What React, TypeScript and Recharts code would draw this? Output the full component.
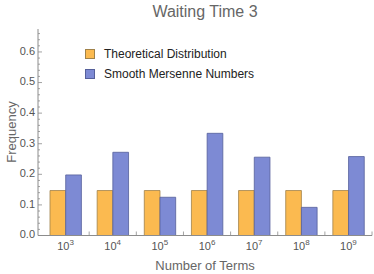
// Waiting Time 3: theoretical vs. observed frequency by number of terms
import { Bar, BarChart, XAxis, YAxis, Legend } from 'recharts'

const exponents = ['3', '4', '5', '6', '7', '8', '9']
const theoretical = [0.147, 0.147, 0.147, 0.147, 0.147, 0.147, 0.147]
const smoothMersenne = [0.198, 0.272, 0.125, 0.334, 0.256, 0.092, 0.258]
const yMajorTicks = [0, 0.1, 0.2, 0.3, 0.4, 0.5, 0.6]
const yAllTicks = Array.from({ length: 34 }, (_, i) => Math.round(i * 2) / 100)

const seriesNames = { theo: 'Theoretical Distribution', smooth: 'Smooth Mersenne Numbers' }
const ORANGE = '#fbba50'
const BLUE = '#7d8ad4'
const FRAME = '#8c8c8c'
const TEXT = '#555'
const FONT = '"Liberation Sans", Arial, sans-serif'

const data = exponents.map((e, i) => ({ exp: e, theo: theoretical[i], smooth: smoothMersenne[i] }))

if (typeof document !== 'undefined') document.body.style.margin = '0'

const isMajor = (v: number) => yMajorTicks.some((m) => Math.abs(m - v) < 1e-6)

// 왼쪽 y축 눈금: 안쪽으로 향하는 눈금선 + 주 눈금 라벨
const LeftTick = (props: any) => {
  const { x, y, payload } = props
  const major = isMajor(payload.value)
  return (
    <g>
      <line x1={x} x2={x + (major ? 4 : 2)} y1={y} y2={y} stroke={FRAME} strokeWidth={0.8} />
      {major && (
        <text x={x - 3} y={y} textAnchor="end" dominantBaseline="middle" fill={TEXT} fontSize={11} fontFamily={FONT}>
          {payload.value.toFixed(1)}
        </text>
      )}
    </g>
  )
}

const RightTick = (props: any) => {
  const { x, y, payload } = props
  const major = isMajor(payload.value)
  return <line x1={x} x2={x - (major ? 4 : 2)} y1={y} y2={y} stroke={FRAME} strokeWidth={0.8} />
}

const HALF_BAND = 23.6

// x축: 10^n 라벨, 그룹 경계에 눈금
const BottomTick = (props: any) => {
  const { x, y, payload } = props
  return (
    <g>
      <line x1={x + HALF_BAND} x2={x + HALF_BAND} y1={y} y2={y - 4} stroke={FRAME} strokeWidth={0.8} />
      <text x={x} y={y + 14.5} textAnchor="middle" fill={TEXT} fontSize={11} fontFamily={FONT}>
        10<tspan fontSize={8} dy={-5}>{payload.value}</tspan>
      </text>
    </g>
  )
}

const TopTick = (props: any) => {
  const { x, y } = props
  return (
    <g>
      {[-7.9, 7.9, HALF_BAND].map((d) => (
        <line key={d} x1={x + d} x2={x + d} y1={y} y2={y + 3} stroke={FRAME} strokeWidth={0.8} />
      ))}
    </g>
  )
}

const LegendBox = () => (
  <div style={{ fontFamily: FONT, fontSize: 12, color: '#222', lineHeight: '20px' }}>
    {[
      { c: ORANGE, s: '#a0824a', t: seriesNames.theo },
      { c: BLUE, s: '#56609a', t: seriesNames.smooth },
    ].map((r) => (
      <div key={r.t} style={{ display: 'flex', alignItems: 'center' }}>
        <span style={{ width: 8, height: 8, background: r.c, border: `1px solid ${r.s}`, marginRight: 9, display: 'inline-block' }} />
        {r.t}
      </div>
    ))}
  </div>
)

export default function App() {
  return (
    <div style={{ position: 'relative', width: 374, height: 274, background: '#fff' }}>
      <BarChart
        width={374}
        height={274}
        data={data}
        margin={{ top: 29, right: 2, left: 8, bottom: 0 }}
        barGap={0}
        barSize={15.7}
      >
        <XAxis
          dataKey="exp"
          interval={0}
          height={38.5}
          padding={{ left: 4, right: 0 }}
          stroke={FRAME}
          tickLine={false}
          tickSize={0}
          tickMargin={0}
          tick={<BottomTick />}
        />
        <XAxis
          xAxisId="top"
          orientation="top"
          dataKey="exp"
          interval={0}
          height={0}
          padding={{ left: 4, right: 0 }}
          stroke={FRAME}
          tickLine={false}
          tickSize={0}
          tickMargin={0}
          tick={<TopTick />}
        />
        <YAxis
          domain={[0, 0.675]}
          ticks={yAllTicks}
          interval={0}
          width={30}
          stroke={FRAME}
          tickLine={false}
          tickSize={0}
          tickMargin={0}
          tick={<LeftTick />}
        />
        <YAxis
          yAxisId="r"
          orientation="right"
          domain={[0, 0.675]}
          ticks={yAllTicks}
          interval={0}
          width={0}
          stroke={FRAME}
          tickLine={false}
          tickSize={0}
          tickMargin={0}
          tick={<RightTick />}
        />
        <Legend
          layout="vertical"
          align="center"
          verticalAlign="middle"
          content={<LegendBox />}
          wrapperStyle={{ left: 85, top: 44, width: 'auto', height: 'auto' }}
        />
        <Bar dataKey="theo" name={seriesNames.theo} fill={ORANGE} stroke="#a0824a" strokeWidth={0.8} isAnimationActive={false} />
        <Bar dataKey="smooth" name={seriesNames.smooth} fill={BLUE} stroke="#56609a" strokeWidth={0.8} isAnimationActive={false} />
      </BarChart>
      <svg width={374} height={274} style={{ position: 'absolute', left: 0, top: 0, pointerEvents: 'none' }}>
        <text x={205} y={17} textAnchor="middle" fill="#666" fontSize={16} fontFamily={FONT}>
          Waiting Time 3
        </text>
        <text x={205} y={270} textAnchor="middle" fill="#666" fontSize={13} fontFamily={FONT}>
          Number of Terms
        </text>
        <text x={0} y={0} transform="translate(16,132) rotate(-90)" textAnchor="middle" fill="#666" fontSize={13} fontFamily={FONT}>
          Frequency
        </text>
      </svg>
    </div>
  )
}
